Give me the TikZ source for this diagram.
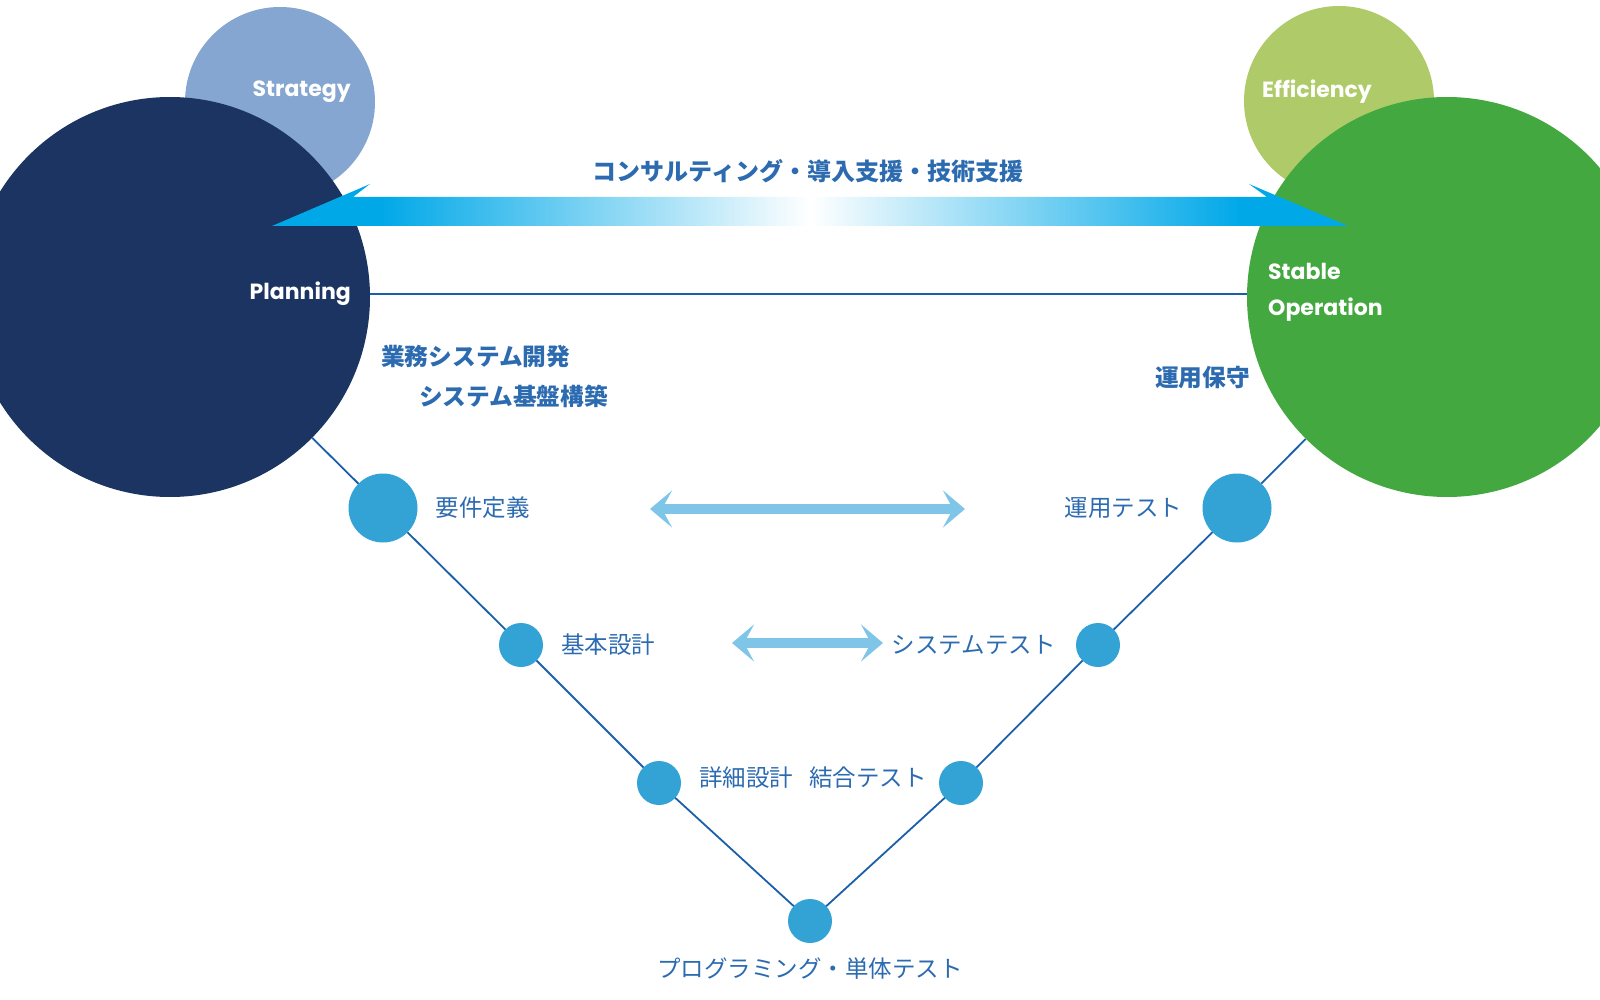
\documentclass[tikz,border=0pt]{standalone}
\usepackage{fontspec}
\usetikzlibrary{arrows.meta,positioning,backgrounds}
\newfontfamily\jpfont{Noto Sans CJK JP}
\newfontfamily\enfont{Poppins}
\definecolor{navy}{HTML}{1B3461}
\definecolor{paleblue}{HTML}{84A6D1}
\definecolor{lime}{HTML}{AFCB69}
\definecolor{leaf}{HTML}{44A840}
\definecolor{dotblue}{HTML}{33A2D4}
\definecolor{vline}{HTML}{1C5FA9}
\definecolor{inkblue}{HTML}{2C6BB0}
\definecolor{pale}{HTML}{7EC5E8}
\definecolor{cyanband}{HTML}{00A8E8}
\pgfdeclarehorizontalshading{bandfade}{100bp}{color(0bp)=(cyanband); color(30bp)=(cyanband);
  color(50bp)=(white); color(70bp)=(cyanband); color(100bp)=(cyanband)}
\tikzset{
  bigdisc/.style={circle,inner sep=0pt,minimum size=400pt},
  smalldisc/.style={circle,inner sep=0pt,minimum size=190pt},
  stage/.style={circle,fill=dotblue,inner sep=0pt,minimum size=44pt},
  keystage/.style={stage,minimum size=69pt},
  tag/.style={font=\enfont\bfseries\fontsize{22}{26}\selectfont,text=white,inner sep=0pt},
  headline/.style={font=\jpfont\bfseries\fontsize{24}{28}\selectfont,text=inkblue,inner sep=0pt},
  phase/.style={font=\jpfont\bfseries\fontsize{23.7}{28}\selectfont,text=inkblue,inner sep=0pt},
  stagetext/.style={font=\jpfont\fontsize{23.5}{28}\selectfont,text=inkblue,inner sep=0pt},
  vee/.style={draw=vline,line width=1.8pt},
  twoway/.style={{Stealth[length=22pt,width=37pt,inset=10pt]}-{Stealth[length=22pt,width=37pt,inset=10pt]},
                 draw=pale,line width=10pt}
}
\begin{document}
\begin{tikzpicture}[x=1pt,y=-1pt,node distance=18pt]
\clip (0,0) rectangle (1600,1000);
\node[smalldisc,fill=paleblue] (strategy) at (280,102) {};
\node[smalldisc,fill=lime] (efficiency) at (1339,101) {};
\node[bigdisc,fill=navy] (plan) at (170,297) {};
\node[bigdisc,fill=leaf] (stable) at (1447,297) {};
\shade[shading=bandfade] (272,226) -- (370,184) -- (353,197) -- (1267,197) -- (1249,184) -- (1348,226) -- cycle;
\node[tag,anchor=east] (strategytxt) at (351,92) {Strategy};
\node[tag,anchor=east] (plantxt) at (351,294) {Planning};
\node[tag,anchor=west] (efficiencytxt) at (1262,92) {Efficiency};
\node[tag,anchor=west] (stabletxt) at (1268,271) {Stable};
\node[tag,anchor=west] (operationtxt) at (1268,310) {Operation};
\node[headline] (support) at (808,171) {コンサルティング・導入支援・技術支援};
\node[phase,anchor=west] (dev) at (381,357) {業務システム開発};
\node[phase,anchor=west] (infra) at (419,396) {システム基盤構築};
\node[phase,anchor=east] (ops) at (1250,378) {運用保守};
\node[keystage] (req) at (383,508) {};
\node[stage] (basic) at (521,645) {};
\node[stage] (detail) at (659,783) {};
\node[stage] (unit) at (810,921) {};
\node[stage] (integ) at (961,783) {};
\node[stage] (systest) at (1098,645) {};
\node[keystage] (optest) at (1237,508) {};
\node[stagetext,right=of req] (reqtxt) {要件定義};
\node[stagetext,right=of basic] (basictxt) {基本設計};
\node[stagetext,right=of detail,yshift=5pt] (detailtxt) {詳細設計};
\node[stagetext,below=14pt of unit] (unittxt) {プログラミング・単体テスト};
\node[stagetext,left=12pt of integ,yshift=5pt] (integtxt) {結合テスト};
\node[stagetext,left=20pt of systest] (systesttxt) {システムテスト};
\node[stagetext,left=20pt of optest] (optesttxt) {運用テスト};
\coordinate (upL) at (650,509);
\coordinate (upR) at (965,509);
\coordinate (lowL) at (732,643);
\coordinate (lowR) at (883,643);
\draw[twoway] (upL) -- (upR);
\draw[twoway] (lowL) -- (lowR);
\begin{scope}[on background layer]
\draw[vee] (plan) -- (req.center) -- (basic.center) -- (detail.center) -- (unit.center)
  -- (integ.center) -- (systest.center) -- (optest.center) -- (stable);
\draw[vee] ([yshift=3pt]plan.east) -- ([yshift=3pt]stable.west);
\end{scope}
\end{tikzpicture}
\end{document}
